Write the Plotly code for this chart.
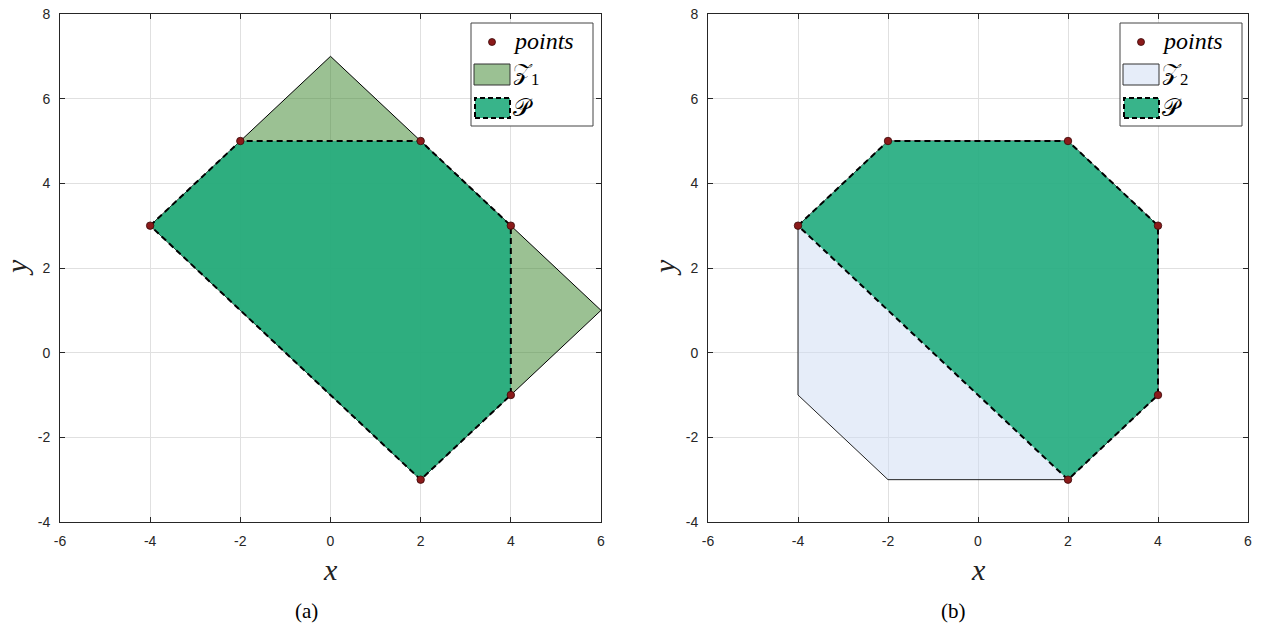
import plotly.graph_objects as go

# Sample points (vertices of the polytope P)
pts_x = [-4, -2, 2, 4, 4, 2]
pts_y = [3, 5, 5, 3, -1, -3]

# Zonotope Z1 (rotated rectangle)
z1_x = [-4, 0, 6, 2]
z1_y = [3, 7, 1, -3]

# Zonotope Z2 (octagon)
z2_x = [-4, -2, 2, 4, 4, 2, -2, -4]
z2_y = [3, 5, 5, 3, -1, -3, -3, -1]

# Polytope P (convex hull of the points)
p_x = [-4, -2, 2, 4, 4, 2]
p_y = [3, 5, 5, 3, -1, -3]

x_ticks = [-6, -4, -2, 0, 2, 4, 6]
x_tick_labels = ["-6", "-4", "-2", "0", "2", "4", "6"]
y_ticks = [-4, -2, 0, 2, 4, 6, 8]
y_tick_labels = ["-4", "-2", "0", "2", "4", "6", "8"]

W, H = 1262, 630


def px(v):
    return v / W


def py(v):
    return 1 - v / H


left_px = (60, 601)
right_px = (708, 1248)
top_px, bottom_px = 14, 522

Z1_FILL = "rgba(55,131,39,0.5)"
Z2_FILL = "rgba(205,219,243,0.5)"
P_FILL = "rgba(34,172,125,0.9)"
P_SWATCH = "rgb(56,180,138)"
Z1_SWATCH = "rgb(155,193,147)"
Z2_SWATCH = "rgb(230,237,249)"
PT_COLOR = "#8B1A1A"

serif = "Liberation Serif"
sans = "Liberation Sans"

fig = go.Figure()
shapes = []
annotations = []


def close(v):
    return list(v) + [v[0]]


def add_panel(xa, ya, zx, zy, zfill, zline):
    fig.add_trace(go.Scatter(
        x=close(zx), y=close(zy), mode="lines", fill="toself",
        fillcolor=zfill, line=dict(color=zline, width=1),
        xaxis=xa, yaxis=ya, showlegend=False, hoverinfo="skip"))
    fig.add_trace(go.Scatter(
        x=close(p_x), y=close(p_y), mode="lines", fill="toself",
        fillcolor=P_FILL, line=dict(color="black", width=2, dash="6px,4px"),
        xaxis=xa, yaxis=ya, showlegend=False, hoverinfo="skip"))
    fig.add_trace(go.Scatter(
        x=pts_x, y=pts_y, mode="markers",
        marker=dict(color=PT_COLOR, size=7.5, line=dict(color="#3a0a0a", width=0.8)),
        xaxis=xa, yaxis=ya, showlegend=False))


def add_legend(box_left, zlabel, zswatch, zline):
    top = 23
    # frame
    shapes.append(dict(type="rect", xref="paper", yref="paper",
                       x0=px(box_left), x1=px(box_left + 122),
                       y0=py(top + 103), y1=py(top),
                       fillcolor="white", line=dict(color="#444", width=1)))
    # points marker
    cx, cy = box_left + 21, top + 19
    shapes.append(dict(type="circle", xref="paper", yref="paper",
                       x0=px(cx - 3.5), x1=px(cx + 3.5), y0=py(cy + 3.5), y1=py(cy - 3.5),
                       fillcolor=PT_COLOR, line=dict(color="#3a0a0a", width=0.8)))
    # zonotope swatch
    shapes.append(dict(type="rect", xref="paper", yref="paper",
                       x0=px(box_left + 3), x1=px(box_left + 39),
                       y0=py(top + 62), y1=py(top + 41),
                       fillcolor=zswatch, line=dict(color=zline, width=1)))
    # polytope swatch
    shapes.append(dict(type="rect", xref="paper", yref="paper",
                       x0=px(box_left + 4), x1=px(box_left + 39),
                       y0=py(top + 95), y1=py(top + 75),
                       fillcolor=P_SWATCH, line=dict(color="black", width=2, dash="5px,3px")))
    labels = [("<i>points</i>", top + 18), (zlabel, top + 51), ("𝒫", top + 85)]
    for txt, yy in labels:
        annotations.append(dict(text=txt, x=px(box_left + 40), y=py(yy),
                                xref="paper", yref="paper", xanchor="left", yanchor="middle",
                                showarrow=False,
                                font=dict(family=serif, size=24, color="black")))


add_panel("x", "y", z1_x, z1_y, Z1_FILL, "black")
add_panel("x2", "y2", z2_x, z2_y, Z2_FILL, "#222222")
add_legend(471, "𝒵<sub>1</sub>", Z1_SWATCH, "#333")
add_legend(1120, "𝒵<sub>2</sub>", Z2_SWATCH, "#333")

# axis labels and sub-figure captions
for (l, r), cap_x, cap in ((left_px, 306, "(a)"), (right_px, 953, "(b)")):
    annotations.append(dict(text="<i>x</i>", x=px((l + r) / 2), y=py(569),
                            xref="paper", yref="paper", xanchor="center", yanchor="middle",
                            showarrow=False, font=dict(family=serif, size=30, color="#222")))
    annotations.append(dict(text="<i>y</i>", x=px(l - 44), y=py(268),
                            xref="paper", yref="paper", xanchor="center", yanchor="middle",
                            textangle=-90, showarrow=False,
                            font=dict(family=serif, size=30, color="#222")))
    annotations.append(dict(text=cap, x=px(cap_x), y=py(611),
                            xref="paper", yref="paper", xanchor="center", yanchor="middle",
                            showarrow=False, font=dict(family=serif, size=21, color="black")))

axis_common = dict(
    showgrid=True, gridcolor="#E0E0E0", gridwidth=1,
    zeroline=False, showline=True, linecolor="#262626", linewidth=1,
    mirror="ticks", ticks="inside", ticklen=5, tickcolor="#262626",
    tickfont=dict(family=sans, size=14, color="#262626"),
    ticklabelstandoff=6, automargin=False,
)

fig.update_layout(
    width=W, height=H, margin=dict(l=0, r=0, t=0, b=0, pad=0, autoexpand=False),
    paper_bgcolor="white", plot_bgcolor="white",
    xaxis=dict(domain=[px(left_px[0]), px(left_px[1])], anchor="y", range=[-6, 6],
               tickvals=x_ticks, ticktext=x_tick_labels, **axis_common),
    yaxis=dict(domain=[py(bottom_px), py(top_px)], anchor="x", range=[-4, 8],
               tickvals=y_ticks, ticktext=y_tick_labels, **axis_common),
    xaxis2=dict(domain=[px(right_px[0]), px(right_px[1])], anchor="y2", range=[-6, 6],
                tickvals=x_ticks, ticktext=x_tick_labels, **axis_common),
    yaxis2=dict(domain=[py(bottom_px), py(top_px)], anchor="x2", range=[-4, 8],
                tickvals=y_ticks, ticktext=y_tick_labels, **axis_common),
    shapes=shapes,
    annotations=annotations,
    showlegend=False,
)

fig.write_html("out.html")
